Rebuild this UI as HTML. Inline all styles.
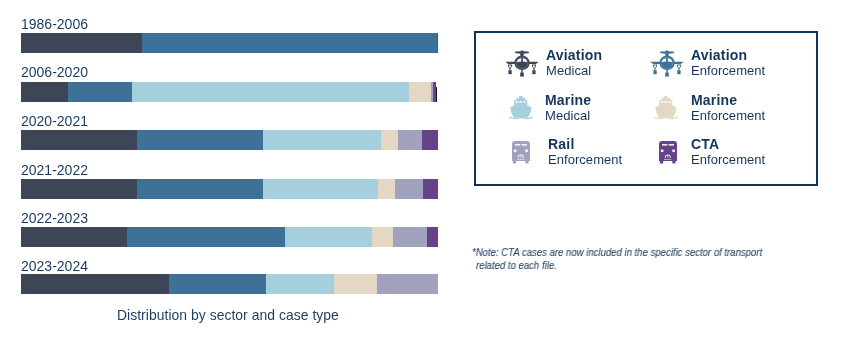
<!DOCTYPE html>
<html><head><meta charset="utf-8"><style>
html,body{margin:0;padding:0;background:#fff;width:843px;height:339px;overflow:hidden}
body{position:relative;font-family:"Liberation Sans",sans-serif;color:#1b3a5c}
.lab,.lb,.lr,.cap,.note{will-change:transform}
.s{position:absolute;height:20px}
.lab{position:absolute;left:21.3px;font-size:14px;line-height:14px;letter-spacing:0px;color:#183a5e;white-space:nowrap}
.box{position:absolute;left:474px;top:31px;width:340px;height:151px;border:2px solid #0e3359}
.ic{position:absolute;overflow:visible}
.lb{position:absolute;font-weight:bold;font-size:14px;line-height:14px;letter-spacing:0.2px;color:#15355a;white-space:nowrap}
.lr{position:absolute;font-size:13px;line-height:14px;letter-spacing:0.05px;color:#15355a;white-space:nowrap}
.cap{position:absolute;left:117px;top:308px;font-size:13.9px;line-height:14px;letter-spacing:0.05px;color:#1f3d5e;white-space:nowrap}
.note{position:absolute;left:472px;font-style:italic;font-size:10px;line-height:13px;color:#2a4a6b;white-space:nowrap;transform:scaleX(0.956);transform-origin:0 0;-webkit-text-stroke:0.1px #2a4a6b}
</style></head><body>
<div class="s" style="left:21px;top:33px;width:121px;background:#3c4657"></div>
<div class="s" style="left:142px;top:33px;width:295px;background:#3e7197"></div>
<div class="s" style="left:437px;top:33px;width:1px;background:#65428a"></div>
<div class="lab" style="top:17px">1986-2006</div>
<div class="s" style="left:21px;top:82px;width:47px;background:#3c4657"></div>
<div class="s" style="left:68px;top:82px;width:64px;background:#3e7197"></div>
<div class="s" style="left:132px;top:82px;width:277px;background:#a5cfdc"></div>
<div class="s" style="left:409px;top:82px;width:22px;background:#e4d8c5"></div>
<div class="s" style="left:431px;top:82px;width:2px;background:#a1a2be"></div>
<div class="s" style="left:433px;top:82px;width:3px;background:#65428a"></div>
<div class="lab" style="top:65px">2006-2020</div>
<div class="s" style="left:21px;top:130px;width:116px;background:#3c4657"></div>
<div class="s" style="left:137px;top:130px;width:126px;background:#3e7197"></div>
<div class="s" style="left:263px;top:130px;width:118px;background:#a5cfdc"></div>
<div class="s" style="left:381px;top:130px;width:17px;background:#e4d8c5"></div>
<div class="s" style="left:398px;top:130px;width:24px;background:#a1a2be"></div>
<div class="s" style="left:422px;top:130px;width:16px;background:#65428a"></div>
<div class="lab" style="top:114px">2020-2021</div>
<div class="s" style="left:21px;top:179px;width:116px;background:#3c4657"></div>
<div class="s" style="left:137px;top:179px;width:126px;background:#3e7197"></div>
<div class="s" style="left:263px;top:179px;width:115px;background:#a5cfdc"></div>
<div class="s" style="left:378px;top:179px;width:17px;background:#e4d8c5"></div>
<div class="s" style="left:395px;top:179px;width:28px;background:#a1a2be"></div>
<div class="s" style="left:423px;top:179px;width:15px;background:#65428a"></div>
<div class="lab" style="top:163px">2021-2022</div>
<div class="s" style="left:21px;top:227px;width:106px;background:#3c4657"></div>
<div class="s" style="left:127px;top:227px;width:158px;background:#3e7197"></div>
<div class="s" style="left:285px;top:227px;width:87px;background:#a5cfdc"></div>
<div class="s" style="left:372px;top:227px;width:21px;background:#e4d8c5"></div>
<div class="s" style="left:393px;top:227px;width:34px;background:#a1a2be"></div>
<div class="s" style="left:427px;top:227px;width:11px;background:#65428a"></div>
<div class="lab" style="top:211px">2022-2023</div>
<div class="s" style="left:21px;top:274px;width:148px;background:#3c4657"></div>
<div class="s" style="left:169px;top:274px;width:97px;background:#3e7197"></div>
<div class="s" style="left:266px;top:274px;width:68px;background:#a5cfdc"></div>
<div class="s" style="left:334px;top:274px;width:43px;background:#e4d8c5"></div>
<div class="s" style="left:377px;top:274px;width:61px;background:#a1a2be"></div>
<div class="lab" style="top:259px">2023-2024</div>
<div class="s" style="left:436px;top:87px;width:1px;height:15px;background:#111"></div>
<div class="box"></div>
<svg class="ic" style="left:504px;top:49px" width="36" height="30" viewBox="0 0 36 30">
<g fill="#3c4657">
<path d="M11 3.3 Q11 2.4 12 2.4 L17 2.2 L19 2.2 L24 2.4 Q25 2.4 25 3.3 Q25 4.2 24 4.2 L19 4.7 L17 4.7 L12 4.2 Q11 4.2 11 3.3 Z"/>
<path d="M16.7 6 L16.7 2 Q18 0.6 19.3 2 L19.3 6 Z"/>
<ellipse cx="18.05" cy="13.8" rx="7.7" ry="7.3"/>
<path d="M16.3 7 L16.5 4.5 L19.5 4.5 L19.7 7 Z"/>
<path d="M1.2 12.8 L12 12.8 L12 15.1 L4.2 15.1 Z"/>
<path d="M34.8 12.8 L24 12.8 L24 15.1 L31.8 15.1 Z"/>
<path d="M3.9 15.6 L8.1 15.6 L8.1 17.6 Q6 20.4 3.9 17.6 Z"/>
<path d="M27.9 15.6 L32.1 15.6 L32.1 17.6 Q30 20.4 27.9 17.6 Z"/>
<rect x="5.4" y="19" width="1.2" height="2.5"/>
<rect x="29.4" y="19" width="1.2" height="2.5"/>
<rect x="4.4" y="21.3" width="3.3" height="3.9"/>
<rect x="28.3" y="21.3" width="3.3" height="3.9"/>
<rect x="17.3" y="20" width="1.4" height="4"/>
<rect x="16.2" y="23.6" width="3.6" height="4"/>
</g>
<g fill="#fff" opacity="1">
<path d="M12.9 13.2 Q13.2 9.9 17.2 9.3 L17.2 12.5 Q14.6 12.6 12.9 13.2 Z"/>
<path d="M23.2 13.2 Q22.9 9.9 18.9 9.3 L18.9 12.5 Q21.5 12.6 23.2 13.2 Z"/>
<circle cx="18.05" cy="14" r="5.9" fill="none" stroke="#fff" stroke-width="0.5" opacity="0.35"/>
<ellipse cx="6" cy="17.2" rx="1.1" ry="1"/>
<ellipse cx="30" cy="17.2" rx="1.1" ry="1"/>
</g>
</svg>
<svg class="ic" style="left:649px;top:49px" width="36" height="30" viewBox="0 0 36 30">
<g fill="#3e7197">
<path d="M11 3.3 Q11 2.4 12 2.4 L17 2.2 L19 2.2 L24 2.4 Q25 2.4 25 3.3 Q25 4.2 24 4.2 L19 4.7 L17 4.7 L12 4.2 Q11 4.2 11 3.3 Z"/>
<path d="M16.7 6 L16.7 2 Q18 0.6 19.3 2 L19.3 6 Z"/>
<ellipse cx="18.05" cy="13.8" rx="7.7" ry="7.3"/>
<path d="M16.3 7 L16.5 4.5 L19.5 4.5 L19.7 7 Z"/>
<path d="M1.2 12.8 L12 12.8 L12 15.1 L4.2 15.1 Z"/>
<path d="M34.8 12.8 L24 12.8 L24 15.1 L31.8 15.1 Z"/>
<path d="M3.9 15.6 L8.1 15.6 L8.1 17.6 Q6 20.4 3.9 17.6 Z"/>
<path d="M27.9 15.6 L32.1 15.6 L32.1 17.6 Q30 20.4 27.9 17.6 Z"/>
<rect x="5.4" y="19" width="1.2" height="2.5"/>
<rect x="29.4" y="19" width="1.2" height="2.5"/>
<rect x="4.4" y="21.3" width="3.3" height="3.9"/>
<rect x="28.3" y="21.3" width="3.3" height="3.9"/>
<rect x="17.3" y="20" width="1.4" height="4"/>
<rect x="16.2" y="23.6" width="3.6" height="4"/>
</g>
<g fill="#fff" opacity="1">
<path d="M12.9 13.2 Q13.2 9.9 17.2 9.3 L17.2 12.5 Q14.6 12.6 12.9 13.2 Z"/>
<path d="M23.2 13.2 Q22.9 9.9 18.9 9.3 L18.9 12.5 Q21.5 12.6 23.2 13.2 Z"/>
<circle cx="18.05" cy="14" r="5.9" fill="none" stroke="#fff" stroke-width="0.5" opacity="0.35"/>
<ellipse cx="6" cy="17.2" rx="1.1" ry="1"/>
<ellipse cx="30" cy="17.2" rx="1.1" ry="1"/>
</g>
</svg>
<svg class="ic" style="left:508.5px;top:96px" width="24" height="24" viewBox="0 0 24 24">
<g fill="#a5cfdc">
<rect x="10.1" y="0" width="3.3" height="2"/>
<rect x="7.6" y="1.8" width="8.7" height="2.4"/>
<rect x="5.1" y="4" width="13.2" height="5.6"/>
<path d="M5.1 9.2 L18.3 9.2 L22.6 11.5 Q22.2 17 18.9 21.8 L5 21.8 Q1.8 17 1.3 11.5 Z"/>
<path d="M0.2 21.1 Q1.5 20.5 3 21.2 Q6 22.6 9 21.4 Q12 20.4 15 21.4 Q18 22.6 21 21.2 Q22.5 20.5 23.7 21.1 L23.7 22.4 Q22.5 22 21 22.6 Q18 23.9 15 22.7 Q12 21.7 9 22.7 Q6 23.9 3 22.6 Q1.5 22 0.2 22.4 Z"/>
</g>
<g fill="#fff" opacity="0.9">
<rect x="6.3" y="5.3" width="2.9" height="1.5"/>
<rect x="10.3" y="5.3" width="2.7" height="1.5"/>
<rect x="14.2" y="5.3" width="2.6" height="1.5"/>
</g>
</svg>
<svg class="ic" style="left:654px;top:96px" width="24" height="24" viewBox="0 0 24 24">
<g fill="#e4d8c5">
<rect x="10.1" y="0" width="3.3" height="2"/>
<rect x="7.6" y="1.8" width="8.7" height="2.4"/>
<rect x="5.1" y="4" width="13.2" height="5.6"/>
<path d="M5.1 9.2 L18.3 9.2 L22.6 11.5 Q22.2 17 18.9 21.8 L5 21.8 Q1.8 17 1.3 11.5 Z"/>
<path d="M0.2 21.1 Q1.5 20.5 3 21.2 Q6 22.6 9 21.4 Q12 20.4 15 21.4 Q18 22.6 21 21.2 Q22.5 20.5 23.7 21.1 L23.7 22.4 Q22.5 22 21 22.6 Q18 23.9 15 22.7 Q12 21.7 9 22.7 Q6 23.9 3 22.6 Q1.5 22 0.2 22.4 Z"/>
</g>
<g fill="#fff" opacity="0.9">
<rect x="6.3" y="5.3" width="2.9" height="1.5"/>
<rect x="10.3" y="5.3" width="2.7" height="1.5"/>
<rect x="14.2" y="5.3" width="2.6" height="1.5"/>
</g>
</svg>
<svg class="ic" style="left:510.9px;top:141.1px" width="20" height="24" viewBox="0 0 20 24">
<g fill="#a1a2be">
<path d="M1 3.2 Q1 0 4.2 0 L15.8 0 Q19 0 19 3.2 L19 20 L1 20 Z"/>
<rect x="1.9" y="19" width="3.3" height="3.6" rx="0.8"/>
<rect x="14.3" y="19" width="3.3" height="3.6" rx="0.8"/>
</g>
<g fill="#fff" opacity="0.9">
<rect x="4" y="3" width="5.3" height="1.6"/>
<rect x="10.6" y="3" width="5.4" height="1.6"/>
<circle cx="4.1" cy="9.8" r="1.5"/>
<circle cx="15.6" cy="9.8" r="1.5"/>
<path d="M7 16.9 L7 15.8 Q7 13.4 9.9 13.4 Q12.7 13.4 12.7 15.8 L12.7 16.9 L11.8 16.9 L11.8 15.8 Q11.8 14.3 9.9 14.3 Q7.9 14.3 7.9 15.8 L7.9 16.9 Z"/>
<rect x="9.5" y="14" width="0.8" height="2.9"/>
<rect x="6" y="18" width="7.5" height="0.8" opacity="0.7"/>
</g>
</svg>
<svg class="ic" style="left:657.6px;top:141.2px" width="20" height="24" viewBox="0 0 20 24">
<g fill="#65428a">
<path d="M1 3.2 Q1 0 4.2 0 L15.8 0 Q19 0 19 3.2 L19 20 L1 20 Z"/>
<rect x="1.9" y="19" width="3.3" height="3.6" rx="0.8"/>
<rect x="14.3" y="19" width="3.3" height="3.6" rx="0.8"/>
</g>
<g fill="#fff" opacity="0.9">
<rect x="4" y="3" width="5.3" height="1.6"/>
<rect x="10.6" y="3" width="5.4" height="1.6"/>
<circle cx="4.1" cy="9.8" r="1.5"/>
<circle cx="15.6" cy="9.8" r="1.5"/>
<path d="M7 16.9 L7 15.8 Q7 13.4 9.9 13.4 Q12.7 13.4 12.7 15.8 L12.7 16.9 L11.8 16.9 L11.8 15.8 Q11.8 14.3 9.9 14.3 Q7.9 14.3 7.9 15.8 L7.9 16.9 Z"/>
<rect x="9.5" y="14" width="0.8" height="2.9"/>
<rect x="6" y="18" width="7.5" height="0.8" opacity="0.7"/>
</g>
</svg>
<div class="lb" style="left:546px;top:48px">Aviation</div><div class="lr" style="left:546px;top:64px">Medical</div>
<div class="lb" style="left:691px;top:48px">Aviation</div><div class="lr" style="left:691px;top:64px">Enforcement</div>
<div class="lb" style="left:545px;top:93px">Marine</div><div class="lr" style="left:545px;top:109px">Medical</div>
<div class="lb" style="left:691px;top:93px">Marine</div><div class="lr" style="left:691px;top:109px">Enforcement</div>
<div class="lb" style="left:548px;top:137px">Rail</div><div class="lr" style="left:548px;top:153px">Enforcement</div>
<div class="lb" style="left:691px;top:137px">CTA</div><div class="lr" style="left:691px;top:153px">Enforcement</div>
<div class="cap">Distribution by sector and case type</div>
<div class="note" style="top:246px">*Note: CTA cases are now included in the specific sector of transport</div>
<div class="note" style="top:259px;left:476px">related to each file.</div>
</body></html>
